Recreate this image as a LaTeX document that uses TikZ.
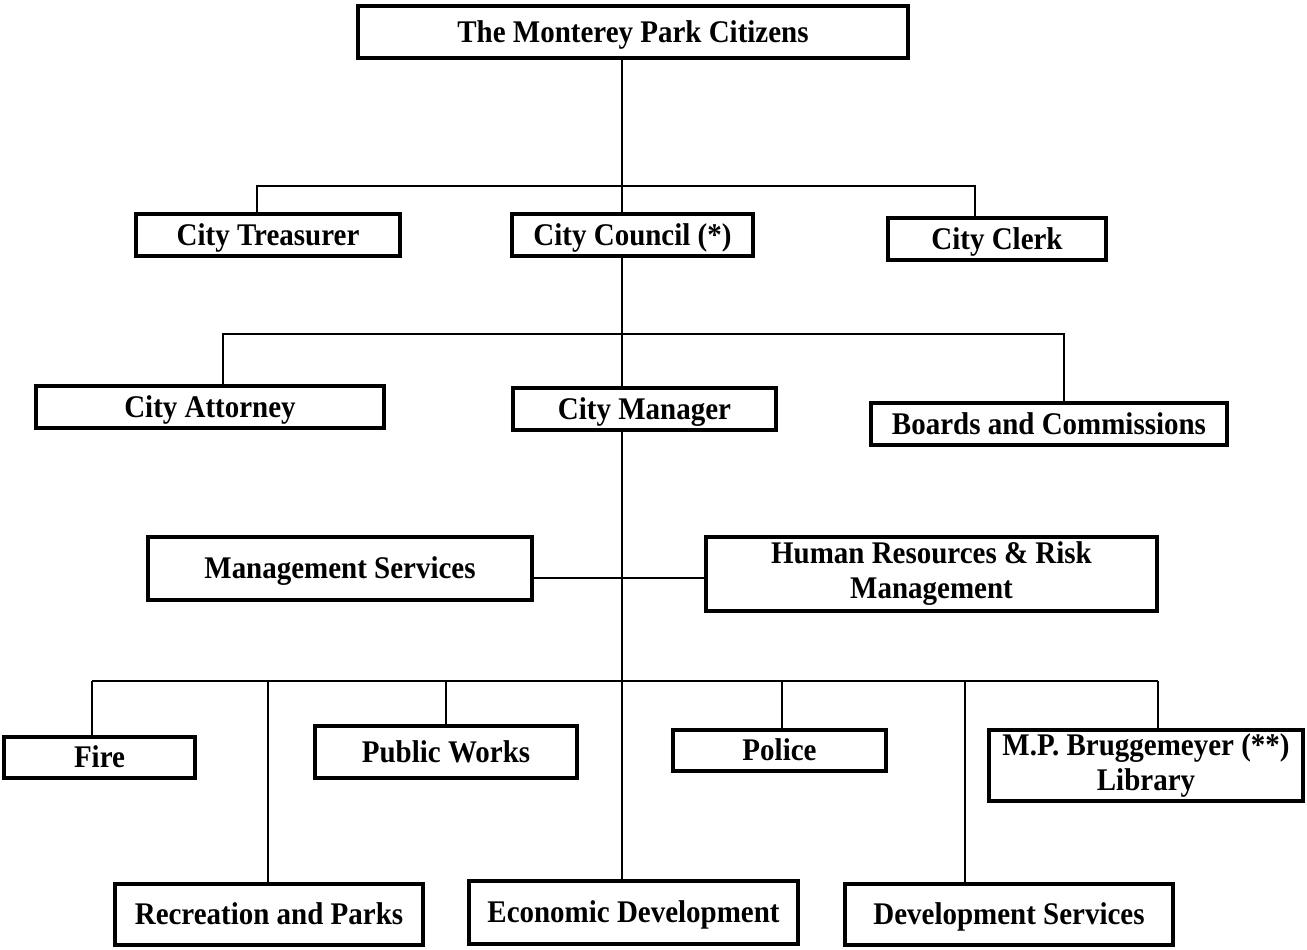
\documentclass[tikz,border=0pt]{standalone}
\usepackage{fontspec}
\setmainfont{Liberation Serif}[FakeStretch=0.92]
\begin{document}
\begin{tikzpicture}[x=1pt,y=-1pt,
  box/.style={draw, line width=3.6pt, inner sep=0pt, align=center,
    font=\fontsize{31.5}{35}\selectfont\bfseries},
  one/.style={box, text height=24.5pt, text depth=4pt},
  link/.style={line width=1.7pt}]
\useasboundingbox (0,0) rectangle (1307,950);

% top level
\node[one, minimum width=550, minimum height=52] (cit) at (633,32) {The Monterey Park Citizens};

% elected officials
\node[one, minimum width=264, minimum height=42] (treas) at (268,235) {City Treasurer};
\node[one, minimum width=241, minimum height=42] (council) at (632.5,235) {City Council (*)};
\node[one, minimum width=218, minimum height=42] (clerk) at (997,239) {City Clerk};

% appointed by council
\node[one, minimum width=348, minimum height=42] (attorney) at (210,407) {City Attorney};
\node[one, minimum width=263, minimum height=42] (manager) at (644.5,409) {City Manager};
\node[one, minimum width=356, minimum height=42] (boards) at (1049,424) {Boards and Commissions};

% staff offices
\node[one, minimum width=384, minimum height=63] (mgmt) at (340,568.5) {Management Services};
\node[box, minimum width=451, minimum height=74] (hr) at (931.5,574) {Human Resources \& Risk\\Management};

% departments
\node[one, minimum width=191, minimum height=41] (fire) at (99.5,757.5) {Fire};
\node[one, minimum width=262, minimum height=52] (pw) at (446,752) {Public Works};
\node[one, minimum width=213, minimum height=41] (police) at (779.5,750.5) {Police};
\node[box, minimum width=314, minimum height=71] (lib) at (1146,765.5) {M.P. Bruggemeyer (**)\\Library};
\node[one, minimum width=308, minimum height=61] (rec) at (269,914.5) {Recreation and Parks};
\node[one, minimum width=329, minimum height=63] (econ) at (633.5,912.5) {Economic Development};
\node[one, minimum width=328, minimum height=61] (dev) at (1009,914.5) {Development Services};

% bus coordinates
\coordinate (trunk) at (622,0);
\coordinate (aL) at (257,186);
\coordinate (aR) at (975,186);
\coordinate (bL) at (223,334);
\coordinate (bR) at (1064,334);
\coordinate (mid) at (622,578);
\coordinate (cFire) at (92,681);
\coordinate (cRec) at (268,681);
\coordinate (cPw) at (446,681);
\coordinate (cPol) at (782,681);
\coordinate (cDev) at (965,681);
\coordinate (cLib) at (1158,681);

% main trunk
\draw[link] (cit.south -| trunk) -- (council.north -| trunk);
\draw[link] (council.south -| trunk) -- (manager.north -| trunk);
\draw[link] (manager.south -| trunk) -- (econ.north -| trunk);

% first bus
\draw[link] (treas.north -| aL) -- (aL) -- (aR) -- (clerk.north -| aR);

% second bus
\draw[link] (attorney.north -| bL) -- (bL) -- (bR) -- (boards.north -| bR);

% staff link
\draw[link] (mgmt.east |- mid) -- (hr.west |- mid);

% department bus
\draw[link] (cFire) -- (cLib);
\draw[link] (cFire) -- (fire.north -| cFire);
\draw[link] (cRec) -- (rec.north -| cRec);
\draw[link] (cPw) -- (pw.north -| cPw);
\draw[link] (cPol) -- (police.north -| cPol);
\draw[link] (cDev) -- (dev.north -| cDev);
\draw[link] (cLib) -- (lib.north -| cLib);
\end{tikzpicture}
\end{document}
